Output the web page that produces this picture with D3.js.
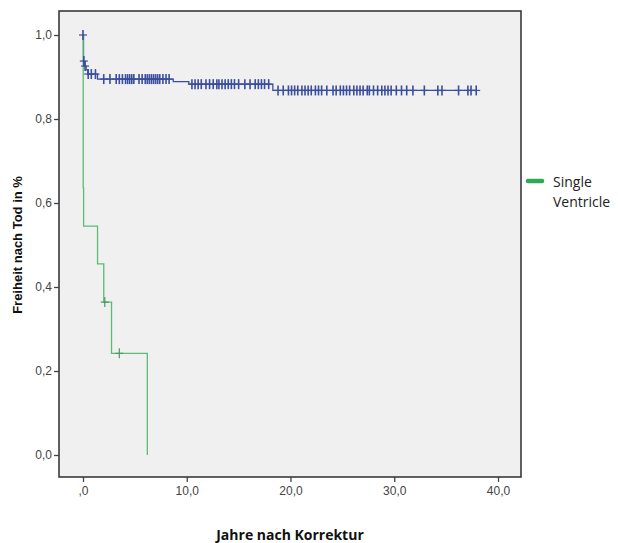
<!DOCTYPE html>
<html><head><meta charset="utf-8">
<script src="https://cdn.jsdelivr.net/npm/d3@7"></script>
<style>body{margin:0;background:#fff}</style>
</head><body>
<svg id="c" width="618" height="543"></svg>
<script>
// ---- data ----
const xTicks = [0, 10, 20, 30, 40];
const xTickLabels = [",0", "10,0", "20,0", "30,0", "40,0"];
const yTicks = [0, 0.2, 0.4, 0.6, 0.8, 1.0];
const yTickLabels = ["0,0", "0,2", "0,4", "0,6", "0,8", "1,0"];

// main group (blue) step function
const blueTimes = [0, 0.05, 0.15, 0.3, 0.45, 1.4, 8.7, 10.2, 18.3];
const blueSurv  = [1.0, 0.938, 0.926, 0.917, 0.907, 0.895, 0.889, 0.883, 0.868];
const blueEnd = 37.9;
const blueCensor = [0, 0.08, 0.2, 0.5, 0.8, 1.2,
  2.0, 2.6, 3.2, 3.5, 3.8, 4.1, 4.3, 4.5, 4.7, 4.9, 5.4, 5.7, 6.0, 6.2, 6.4, 6.6, 6.8, 7.0, 7.2, 7.4, 7.7, 8.0, 8.3,
  10.5, 10.8, 11.1, 11.4, 11.85, 12.2, 12.55, 12.9, 13.1, 13.4, 13.7, 14.0, 14.3, 14.6, 15.0, 15.6, 16.1, 16.6, 16.9, 17.2, 17.5, 17.9,
  18.8, 19.3, 19.8, 20.1, 20.4, 20.7, 21.1, 21.4, 21.7, 22.0, 22.4, 22.7, 23.0, 23.5, 24.1, 24.4, 24.8, 25.1, 25.4, 25.7, 26.1, 26.4,
  26.7, 27.0, 27.4, 27.6, 28.0, 28.4, 28.8, 29.1, 29.4, 29.7, 30.2, 30.7, 31.2, 31.8, 32.9, 34.2, 34.6, 36.2, 37.1, 37.4, 37.9];

// Single Ventricle (green) step function
const greenTimes = [0, 0.02, 0.06, 1.4, 2.0, 2.75, 6.2];
const greenSurv  = [1.0, 0.636, 0.545, 0.455, 0.364, 0.242, 0.0];
const greenEnd = 6.2;
const greenCensor = [2.1, 3.5];

const legendLabel = ["Single", "Ventricle"];

// ---- layout ----
const frame = {left: 59, right: 521, top: 11, bottom: 477};
const x = d3.scaleLinear().domain([0, 40]).range([83, 498]);
const y = d3.scaleLinear().domain([0, 1]).range([455, 35]);
const svg = d3.select("#c");

svg.append("rect").attr("x", frame.left).attr("y", frame.top)
  .attr("width", frame.right - frame.left).attr("height", frame.bottom - frame.top)
  .attr("fill", "#f0f0f0");

const tickFont = "'Liberation Sans', Arial, sans-serif";
// y axis
const yAxis = d3.axisLeft(y).tickValues(yTicks).tickSize(5).tickPadding(2)
  .tickFormat((d, i) => yTickLabels[i]);
const gy = svg.append("g").attr("transform", `translate(${frame.left},0)`).call(yAxis);
gy.select(".domain").remove();
gy.selectAll("line").attr("stroke", "#444").attr("stroke-width", 1.3);
gy.selectAll("text").attr("font-family", tickFont).attr("font-size", 12).attr("fill", "#444");

// x axis
const xAxis = d3.axisBottom(x).tickValues(xTicks).tickSize(5).tickPadding(4)
  .tickFormat((d, i) => xTickLabels[i]);
const gx = svg.append("g").attr("transform", `translate(0,${frame.bottom})`).call(xAxis);
gx.select(".domain").remove();
gx.selectAll("line").attr("stroke", "#444").attr("stroke-width", 1.3);
gx.selectAll("text").attr("font-family", tickFont).attr("font-size", 12).attr("fill", "#444");

// frame
svg.append("rect").attr("x", frame.left).attr("y", frame.top)
  .attr("width", frame.right - frame.left).attr("height", frame.bottom - frame.top)
  .attr("fill", "none").attr("stroke", "#3a3a3a").attr("stroke-width", 1.6);

function stepPoints(times, surv, end) {
  const pts = [];
  for (let i = 0; i < times.length; i++) {
    if (i > 0) pts.push([times[i], surv[i - 1]]);
    pts.push([times[i], surv[i]]);
  }
  pts.push([end, surv[surv.length - 1]]);
  return pts;
}
function survAt(times, surv, t) {
  const i = d3.bisectRight(times, t) - 1;
  return surv[Math.max(0, i)];
}
const line = d3.line().x(d => x(d[0])).y(d => y(d[1]));

const blue = "#3b4d9e", green = "#5dbb73";
svg.append("path").attr("d", line(stepPoints(blueTimes, blueSurv, blueEnd)))
  .attr("fill", "none").attr("stroke", blue).attr("stroke-width", 1.3);
svg.append("path").attr("d", line(stepPoints(greenTimes, greenSurv, greenEnd)))
  .attr("fill", "none").attr("stroke", green).attr("stroke-width", 1.3);

function censors(times, surv, cts, color, sw) {
  const g = svg.append("g").attr("stroke", color);
  cts.forEach(t => {
    const cx = x(t), cy = y(survAt(times, surv, t));
    g.append("line").attr("x1", cx).attr("x2", cx).attr("y1", cy - 5).attr("y2", cy + 5).attr("stroke-width", sw);
    g.append("line").attr("x1", cx - 4).attr("x2", cx + 4).attr("y1", cy).attr("y2", cy).attr("stroke-width", 1.2);
  });
}
censors(greenTimes, greenSurv, greenCensor, "#4a9a5e", 1.2);
censors(blueTimes, blueSurv, blueCensor, blue, 1.6);

// axis titles
svg.append("text").attr("x", 290).attr("y", 540).attr("text-anchor", "middle")
  .attr("font-family", "'Open Sans', sans-serif").attr("font-weight", "bold")
  .attr("font-size", 14).attr("fill", "#111").text("Jahre nach Korrektur");
svg.append("text").attr("transform", "translate(22,245) rotate(-90)").attr("text-anchor", "middle")
  .attr("font-family", "'Liberation Sans', Arial, sans-serif").attr("font-weight", "bold")
  .attr("font-size", 13).attr("fill", "#111").text("Freiheit nach Tod in %");

// legend
svg.append("line").attr("x1", 528).attr("x2", 542).attr("y1", 181).attr("y2", 181)
  .attr("stroke", "#2eaa52").attr("stroke-width", 4.5).attr("stroke-linecap", "round");
legendLabel.forEach((s, i) => {
  svg.append("text").attr("x", 553).attr("y", 187 + i * 20)
    .attr("font-family", "'Open Sans', sans-serif").attr("font-size", 14)
    .attr("fill", "#222").text(s);
});
</script>
</body></html>
